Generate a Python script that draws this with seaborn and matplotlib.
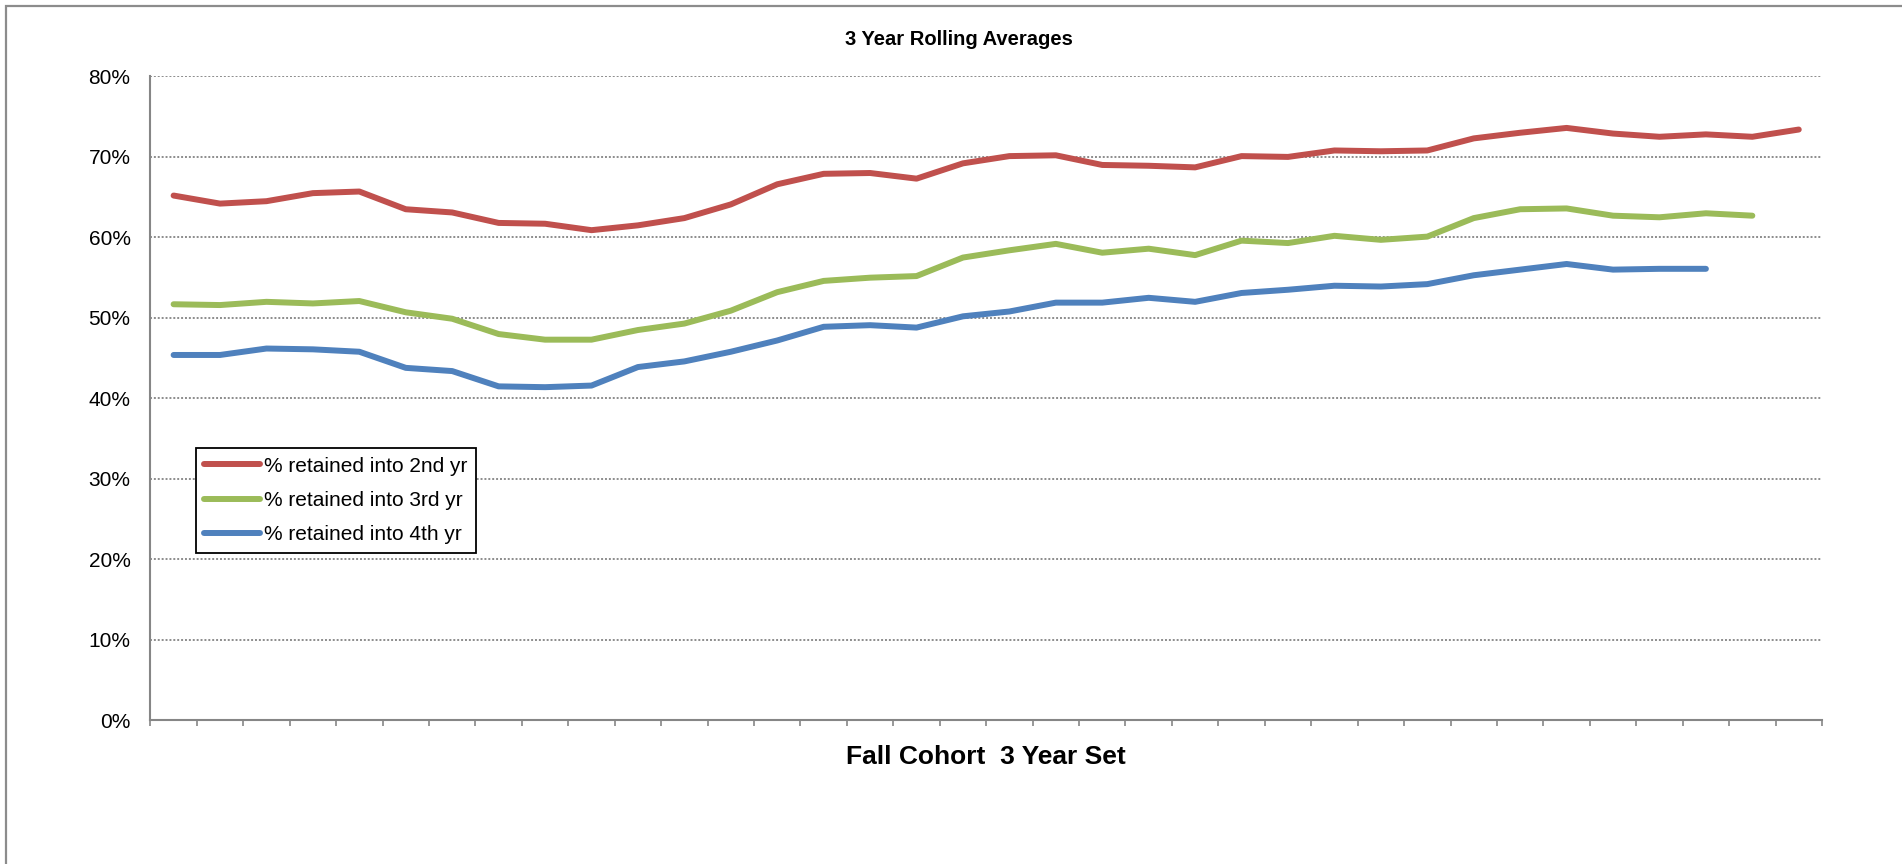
import matplotlib
matplotlib.use("Agg")
import matplotlib.pyplot as plt
from matplotlib.patches import Rectangle
from matplotlib.ticker import FixedLocator, PercentFormatter, NullFormatter
import pandas as pd
import seaborn as sns

# cohort 3-year sets (unlabelled on the x axis)
cohort_sets = list(range(1, 37))

retained_2nd = [65.2, 64.2, 64.5, 65.5, 65.7, 63.5, 63.1, 61.8, 61.7, 60.9, 61.5, 62.4,
                64.1, 66.6, 67.9, 68.0, 67.3, 69.2, 70.1, 70.2, 69.0, 68.9, 68.7, 70.1,
                70.0, 70.8, 70.7, 70.8, 72.3, 73.0, 73.6, 72.9, 72.5, 72.8, 72.5, 73.4]
retained_3rd = [51.7, 51.6, 52.0, 51.8, 52.1, 50.7, 49.9, 48.0, 47.3, 47.3, 48.5, 49.3,
                50.9, 53.2, 54.6, 55.0, 55.2, 57.5, 58.4, 59.2, 58.1, 58.6, 57.8, 59.6,
                59.3, 60.2, 59.7, 60.1, 62.4, 63.5, 63.6, 62.7, 62.5, 63.0, 62.7]
retained_4th = [45.4, 45.4, 46.2, 46.1, 45.8, 43.8, 43.4, 41.5, 41.4, 41.6, 43.9, 44.6,
                45.8, 47.2, 48.9, 49.1, 48.8, 50.2, 50.8, 51.9, 51.9, 52.5, 52.0, 53.1,
                53.5, 54.0, 53.9, 54.2, 55.3, 56.0, 56.7, 56.0, 56.1, 56.1]

series_names = ["% retained into 2nd yr", "% retained into 3rd yr", "% retained into 4th yr"]
series_colors = ["#C0504D", "#9BBB59", "#4F81BD"]
y_ticks = [0, 10, 20, 30, 40, 50, 60, 70, 80]

rows = []
for name, values in zip(series_names, [retained_2nd, retained_3rd, retained_4th]):
    for cohort, v in zip(cohort_sets, values):
        rows.append({"Cohort": cohort, "Retention": v, "Series": name})
df = pd.DataFrame(rows)

sns.set_theme(style="white")
plt.rcParams["font.family"] = ["Liberation Sans", "DejaVu Sans"]
plt.rcParams["text.color"] = "black"

fig = plt.figure(figsize=(19.02, 8.64), dpi=100)
ax = fig.add_axes([0.07907, 0.16609, 0.87886, 0.74549])

sns.lineplot(
    data=df,
    x="Cohort",
    y="Retention",
    hue="Series",
    hue_order=series_names,
    palette=series_colors,
    linewidth=4.3,
    ax=ax,
)
for line in ax.lines:
    line.set_solid_capstyle("round")
    line.set_solid_joinstyle("round")

ax.set_xlim(cohort_sets[0] - 0.5, cohort_sets[-1] + 0.5)
ax.set_ylim(y_ticks[0], y_ticks[-1])
ax.xaxis.set_major_locator(FixedLocator([c - 0.5 for c in cohort_sets] + [cohort_sets[-1] + 0.5]))
ax.xaxis.set_major_formatter(NullFormatter())
ax.yaxis.set_major_locator(FixedLocator(y_ticks))
ax.yaxis.set_major_formatter(PercentFormatter(decimals=0))
ax.set_xlabel("")
ax.set_ylabel("")

ax.yaxis.grid(True, linestyle=(0, (1, 1)), color="#8c8c8c", linewidth=1.4)
ax.xaxis.grid(False)
for side in ["top", "right"]:
    ax.spines[side].set_visible(False)
for side in ["left", "bottom"]:
    ax.spines[side].set_color("#868686")
    ax.spines[side].set_linewidth(1.5)
ax.tick_params(axis="both", direction="out", length=4.3, width=1.2, color="#868686")
ax.tick_params(axis="y", labelsize=15, pad=10, labelcolor="black")
ax.tick_params(axis="x", bottom=True)

fig.text(0.504, 1 - 39.3 / 864, "3 Year Rolling Averages", ha="center", va="center",
         fontsize=14.5, weight="bold", color="black")
fig.text(0.5182, 1 - 756.7 / 864, "Fall Cohort  3 Year Set", ha="center", va="center",
         fontsize=19, weight="bold", color="black")

handles, labels = ax.get_legend_handles_labels()
leg = ax.legend(
    handles, labels,
    loc="upper left",
    bbox_to_anchor=(195.5 / 1902, 1 - 448.3 / 864),
    bbox_transform=fig.transFigure,
    borderaxespad=0,
    fontsize=15,
    frameon=True,
    fancybox=False,
    edgecolor="black",
    framealpha=1,
    handlelength=2.7,
    handletextpad=0.2,
    borderpad=0.4,
    labelspacing=0.74,
)
leg.get_frame().set_linewidth(1.3)
for t in leg.get_texts():
    t.set_color("black")
for h in leg.get_lines():
    h.set_linewidth(4.3)
    h.set_solid_capstyle("round")

# outer chart-area border
fig.add_artist(Rectangle((6 / 1902, -0.1), 1.2, 1 - 6 / 864 + 0.1, transform=fig.transFigure,
                         fill=False, edgecolor="#8c8c8c", linewidth=1.6, clip_on=False))

fig.savefig("out.png", dpi=100)
